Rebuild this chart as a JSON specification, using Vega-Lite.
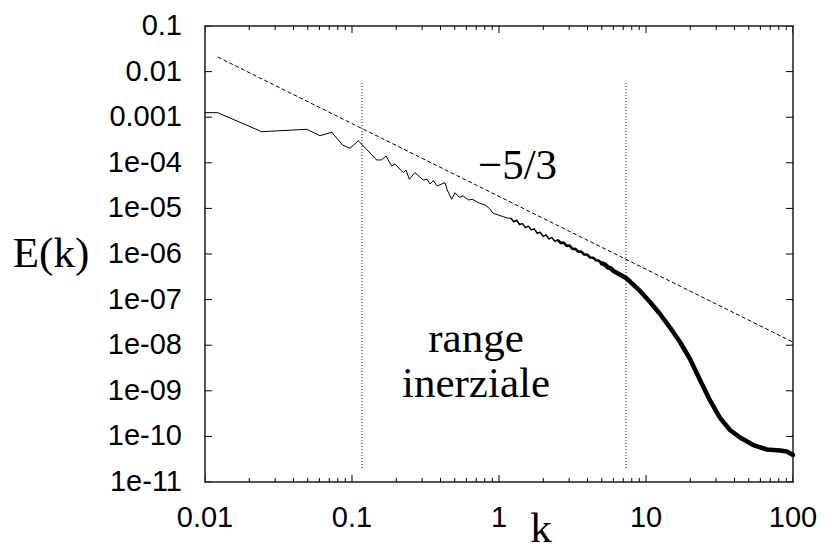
{
  "$schema": "https://vega.github.io/schema/vega-lite/v6.json",
  "width": 588,
  "height": 456,
  "autosize": {"type": "none"},
  "padding": {"left": 205, "top": 26, "right": 34, "bottom": 68},
  "background": "white",
  "config": {"view": {"stroke": "#555555", "strokeWidth": 2}},
  "datasets": {
    "spectrum": [
      {"k": 0.01, "E": 1.256e-3, "seg": "a"},
      {"k": 0.0122, "E": 1.256e-3, "seg": "a"},
      {"k": 0.0243, "E": 4.81e-4, "seg": "a"},
      {"k": 0.0492, "E": 5.43e-4, "seg": "a"},
      {"k": 0.0606, "E": 3.93e-4, "seg": "a"},
      {"k": 0.0728, "E": 4.67e-4, "seg": "a"},
      {"k": 0.0864, "E": 2.45e-4, "seg": "a"},
      {"k": 0.0969, "E": 2.08e-4, "seg": "a"},
      {"k": 0.1104, "E": 3.05e-4, "seg": "a"},
      {"k": 0.1472, "E": 1.15e-4, "seg": "a"},
      {"k": 0.1592, "E": 1.16e-4, "seg": "a"},
      {"k": 0.1703, "E": 1.41e-4, "seg": "a"},
      {"k": 0.1862, "E": 8.51e-5, "seg": "a"},
      {"k": 0.196, "E": 9.41e-5, "seg": "a"},
      {"k": 0.2234, "E": 6.07e-5, "seg": "a"},
      {"k": 0.2329, "E": 6.95e-5, "seg": "a"},
      {"k": 0.2455, "E": 4.35e-5, "seg": "a"},
      {"k": 0.2683, "E": 6.1e-5, "seg": "a"},
      {"k": 0.2902, "E": 4.81e-5, "seg": "a"},
      {"k": 0.3055, "E": 4.2e-5, "seg": "a"},
      {"k": 0.325, "E": 4.35e-5, "seg": "a"},
      {"k": 0.3394, "E": 3.43e-5, "seg": "a"},
      {"k": 0.357, "E": 4.05e-5, "seg": "a"},
      {"k": 0.38, "E": 3.1e-5, "seg": "a"},
      {"k": 0.4074, "E": 3.43e-5, "seg": "a"},
      {"k": 0.4292, "E": 3.66e-5, "seg": "a"},
      {"k": 0.4446, "E": 2.53e-5, "seg": "a"},
      {"k": 0.4766, "E": 1.58e-5, "seg": "a"},
      {"k": 0.5022, "E": 2.21e-5, "seg": "a"},
      {"k": 0.537, "E": 1.75e-5, "seg": "a"},
      {"k": 0.5715, "E": 1.87e-5, "seg": "a"},
      {"k": 0.618, "E": 1.53e-5, "seg": "a"},
      {"k": 0.6622, "E": 1.58e-5, "seg": "a"},
      {"k": 0.7047, "E": 1.4e-5, "seg": "a"},
      {"k": 0.7424, "E": 1.29e-5, "seg": "a"},
      {"k": 0.803, "E": 1.19e-5, "seg": "a"},
      {"k": 0.859, "E": 1.0e-5, "seg": "a"},
      {"k": 0.914, "E": 7.81e-6, "seg": "a"},
      {"k": 0.989, "E": 7.17e-6, "seg": "a"},
      {"k": 1.069, "E": 6.58e-6, "seg": "a"},
      {"k": 1.156, "E": 6.07e-6, "seg": "a"},
      {"k": 1.2023, "E": 6.17e-6, "seg": "a"},
      {"k": 1.2023, "E": 6.17e-6, "seg": "b"},
      {"k": 1.2589, "E": 5.09e-6, "seg": "b"},
      {"k": 1.3183, "E": 5.5e-6, "seg": "b"},
      {"k": 1.3804, "E": 4.44e-6, "seg": "b"},
      {"k": 1.4454, "E": 4.63e-6, "seg": "b"},
      {"k": 1.5136, "E": 3.79e-6, "seg": "b"},
      {"k": 1.5849, "E": 4.09e-6, "seg": "b"},
      {"k": 1.6596, "E": 3.38e-6, "seg": "b"},
      {"k": 1.7378, "E": 3.56e-6, "seg": "b"},
      {"k": 1.8197, "E": 2.85e-6, "seg": "b"},
      {"k": 1.9055, "E": 3.0e-6, "seg": "b"},
      {"k": 1.9953, "E": 2.43e-6, "seg": "b"},
      {"k": 2.0893, "E": 2.62e-6, "seg": "b"},
      {"k": 2.1878, "E": 2.14e-6, "seg": "b"},
      {"k": 2.2909, "E": 2.29e-6, "seg": "b"},
      {"k": 2.3988, "E": 1.897e-6, "seg": "b"},
      {"k": 2.5119, "E": 2.05e-6, "seg": "b"},
      {"k": 2.5119, "E": 2.05e-6, "seg": "c"},
      {"k": 2.6303, "E": 1.73e-6, "seg": "c"},
      {"k": 2.7542, "E": 1.78e-6, "seg": "c"},
      {"k": 2.884, "E": 1.5e-6, "seg": "c"},
      {"k": 3.02, "E": 1.53e-6, "seg": "c"},
      {"k": 3.1623, "E": 1.29e-6, "seg": "c"},
      {"k": 3.3113, "E": 1.3e-6, "seg": "c"},
      {"k": 3.4674, "E": 1.117e-6, "seg": "c"},
      {"k": 3.6308, "E": 1.125e-6, "seg": "c"},
      {"k": 3.8019, "E": 9.75e-7, "seg": "c"},
      {"k": 3.9811, "E": 9.68e-7, "seg": "c"},
      {"k": 4.1687, "E": 8.39e-7, "seg": "c"},
      {"k": 4.3652, "E": 8.3e-7, "seg": "c"},
      {"k": 4.5709, "E": 7.28e-7, "seg": "c"},
      {"k": 4.7863, "E": 7.11e-7, "seg": "c"},
      {"k": 5.0119, "E": 6.21e-7, "seg": "c"},
      {"k": 5.0119, "E": 6.21e-7, "seg": "d"},
      {"k": 5.2481, "E": 5.9e-7, "seg": "d"},
      {"k": 5.4954, "E": 5.11e-7, "seg": "d"},
      {"k": 5.7544, "E": 4.82e-7, "seg": "d"},
      {"k": 6.0256, "E": 4.21e-7, "seg": "d"},
      {"k": 6.3096, "E": 3.87e-7, "seg": "d"},
      {"k": 7.31, "E": 2.98e-7, "seg": "d"},
      {"k": 7.781, "E": 2.49e-7, "seg": "d"},
      {"k": 9.1, "E": 1.545e-7, "seg": "d"},
      {"k": 10.65, "E": 8.85e-8, "seg": "d"},
      {"k": 12.45, "E": 4.83e-8, "seg": "d"},
      {"k": 14.57, "E": 2.44e-8, "seg": "d"},
      {"k": 17.03, "E": 1.175e-8, "seg": "d"},
      {"k": 19.92, "E": 4.98e-9, "seg": "d"},
      {"k": 23.3, "E": 1.73e-9, "seg": "d"},
      {"k": 27.25, "E": 6.13e-10, "seg": "d"},
      {"k": 31.87, "E": 2.54e-10, "seg": "d"},
      {"k": 37.27, "E": 1.38e-10, "seg": "d"},
      {"k": 43.61, "E": 9.46e-11, "seg": "d"},
      {"k": 53.7, "E": 6.47e-11, "seg": "d"},
      {"k": 66.2, "E": 5.16e-11, "seg": "d"},
      {"k": 81.6, "E": 4.91e-11, "seg": "d"},
      {"k": 90.6, "E": 4.67e-11, "seg": "d"},
      {"k": 100, "E": 3.91e-11, "seg": "d"}
    ],
    "slope": [
      {"k": 0.0122, "E": 0.0209},
      {"k": 100, "E": 1.17e-8}
    ],
    "bounds": [
      {"k": 0.117, "top": 0.0056, "bottom": 1.83e-11},
      {"k": 7.31, "top": 0.0056, "bottom": 1.83e-11}
    ],
    "notes": [
      {"text": "−5/3", "k": 1.336, "E": 4.42e-5},
      {"text": "range", "k": 0.6975, "E": 7.1e-9},
      {"text": "inerziale", "k": 0.6975, "E": 7.31e-10}
    ],
    "xlabels": [
      {"label": "0.01", "k": 0.01, "E": 1e-11},
      {"label": "0.1", "k": 0.1, "E": 1e-11},
      {"label": "1", "k": 1, "E": 1e-11},
      {"label": "10", "k": 10, "E": 1e-11},
      {"label": "100", "k": 100, "E": 1e-11}
    ],
    "ylabels": [
      {"label": "0.1", "k": 0.01, "E": 0.1},
      {"label": "0.01", "k": 0.01, "E": 0.01},
      {"label": "0.001", "k": 0.01, "E": 0.001},
      {"label": "1e-04", "k": 0.01, "E": 1e-4},
      {"label": "1e-05", "k": 0.01, "E": 1e-5},
      {"label": "1e-06", "k": 0.01, "E": 1e-6},
      {"label": "1e-07", "k": 0.01, "E": 1e-7},
      {"label": "1e-08", "k": 0.01, "E": 1e-8},
      {"label": "1e-09", "k": 0.01, "E": 1e-9},
      {"label": "1e-10", "k": 0.01, "E": 1e-10},
      {"label": "1e-11", "k": 0.01, "E": 1e-11}
    ],
    "ytitle": [{"label": "E(k)", "k": 0.01, "E": 1e-6}],
    "xtitle": [{"label": "k", "k": 1.93, "E": 1e-11}],
    "xmajor": [
      {"k": 0.01, "E": 1e-11}, {"k": 0.1, "E": 1e-11}, {"k": 1, "E": 1e-11}, {"k": 10, "E": 1e-11}, {"k": 100, "E": 1e-11},
      {"k": 0.01, "E": 0.1}, {"k": 0.1, "E": 0.1}, {"k": 1, "E": 0.1}, {"k": 10, "E": 0.1}, {"k": 100, "E": 0.1}
    ],
    "xminor": [
      {"k": 0.02, "E": 1e-11}, {"k": 0.03, "E": 1e-11}, {"k": 0.04, "E": 1e-11}, {"k": 0.05, "E": 1e-11}, {"k": 0.06, "E": 1e-11}, {"k": 0.07, "E": 1e-11}, {"k": 0.08, "E": 1e-11}, {"k": 0.09, "E": 1e-11},
      {"k": 0.2, "E": 1e-11}, {"k": 0.3, "E": 1e-11}, {"k": 0.4, "E": 1e-11}, {"k": 0.5, "E": 1e-11}, {"k": 0.6, "E": 1e-11}, {"k": 0.7, "E": 1e-11}, {"k": 0.8, "E": 1e-11}, {"k": 0.9, "E": 1e-11},
      {"k": 2, "E": 1e-11}, {"k": 3, "E": 1e-11}, {"k": 4, "E": 1e-11}, {"k": 5, "E": 1e-11}, {"k": 6, "E": 1e-11}, {"k": 7, "E": 1e-11}, {"k": 8, "E": 1e-11}, {"k": 9, "E": 1e-11},
      {"k": 20, "E": 1e-11}, {"k": 30, "E": 1e-11}, {"k": 40, "E": 1e-11}, {"k": 50, "E": 1e-11}, {"k": 60, "E": 1e-11}, {"k": 70, "E": 1e-11}, {"k": 80, "E": 1e-11}, {"k": 90, "E": 1e-11},
      {"k": 0.02, "E": 0.1}, {"k": 0.03, "E": 0.1}, {"k": 0.04, "E": 0.1}, {"k": 0.05, "E": 0.1}, {"k": 0.06, "E": 0.1}, {"k": 0.07, "E": 0.1}, {"k": 0.08, "E": 0.1}, {"k": 0.09, "E": 0.1},
      {"k": 0.2, "E": 0.1}, {"k": 0.3, "E": 0.1}, {"k": 0.4, "E": 0.1}, {"k": 0.5, "E": 0.1}, {"k": 0.6, "E": 0.1}, {"k": 0.7, "E": 0.1}, {"k": 0.8, "E": 0.1}, {"k": 0.9, "E": 0.1},
      {"k": 2, "E": 0.1}, {"k": 3, "E": 0.1}, {"k": 4, "E": 0.1}, {"k": 5, "E": 0.1}, {"k": 6, "E": 0.1}, {"k": 7, "E": 0.1}, {"k": 8, "E": 0.1}, {"k": 9, "E": 0.1},
      {"k": 20, "E": 0.1}, {"k": 30, "E": 0.1}, {"k": 40, "E": 0.1}, {"k": 50, "E": 0.1}, {"k": 60, "E": 0.1}, {"k": 70, "E": 0.1}, {"k": 80, "E": 0.1}, {"k": 90, "E": 0.1}
    ],
    "ymajor": [
      {"k": 0.01, "E": 1e-11}, {"k": 0.01, "E": 1e-10}, {"k": 0.01, "E": 1e-9}, {"k": 0.01, "E": 1e-8}, {"k": 0.01, "E": 1e-7}, {"k": 0.01, "E": 1e-6},
      {"k": 0.01, "E": 1e-5}, {"k": 0.01, "E": 1e-4}, {"k": 0.01, "E": 0.001}, {"k": 0.01, "E": 0.01}, {"k": 0.01, "E": 0.1},
      {"k": 100, "E": 1e-11}, {"k": 100, "E": 1e-10}, {"k": 100, "E": 1e-9}, {"k": 100, "E": 1e-8}, {"k": 100, "E": 1e-7}, {"k": 100, "E": 1e-6},
      {"k": 100, "E": 1e-5}, {"k": 100, "E": 1e-4}, {"k": 100, "E": 0.001}, {"k": 100, "E": 0.01}, {"k": 100, "E": 0.1}
    ]
  },
  "layer": [
    {
      "data": {"name": "spectrum"},
      "transform": [{"filter": "datum.seg == 'a'"}],
      "mark": {"type": "line", "color": "black", "strokeWidth": 1, "strokeJoin": "round"},
      "encoding": {
        "x": {"field": "k", "type": "quantitative", "scale": {"type": "log", "domain": [0.01, 100], "nice": false}, "axis": null},
        "y": {"field": "E", "type": "quantitative", "scale": {"type": "log", "domain": [1e-11, 0.1], "nice": false}, "axis": null}
      }
    },
    {
      "data": {"name": "spectrum"},
      "transform": [{"filter": "datum.seg == 'b'"}],
      "mark": {"type": "line", "color": "black", "strokeWidth": 1.5, "strokeJoin": "round"},
      "encoding": {
        "x": {"field": "k", "type": "quantitative", "axis": null},
        "y": {"field": "E", "type": "quantitative", "axis": null}
      }
    },
    {
      "data": {"name": "spectrum"},
      "transform": [{"filter": "datum.seg == 'c'"}],
      "mark": {"type": "line", "color": "black", "strokeWidth": 2.6, "strokeJoin": "round"},
      "encoding": {
        "x": {"field": "k", "type": "quantitative", "axis": null},
        "y": {"field": "E", "type": "quantitative", "axis": null}
      }
    },
    {
      "data": {"name": "spectrum"},
      "transform": [{"filter": "datum.seg == 'd'"}],
      "mark": {"type": "line", "color": "black", "strokeWidth": 4.5, "strokeJoin": "round", "strokeCap": "round"},
      "encoding": {
        "x": {"field": "k", "type": "quantitative", "axis": null},
        "y": {"field": "E", "type": "quantitative", "axis": null}
      }
    },
    {
      "data": {"name": "slope"},
      "mark": {"type": "line", "color": "black", "strokeWidth": 1, "strokeDash": [4, 2.5]},
      "encoding": {
        "x": {"field": "k", "type": "quantitative", "axis": null},
        "y": {"field": "E", "type": "quantitative", "axis": null}
      }
    },
    {
      "data": {"name": "bounds"},
      "mark": {"type": "rule", "color": "black", "strokeWidth": 1, "strokeDash": [1, 2]},
      "encoding": {
        "x": {"field": "k", "type": "quantitative", "axis": null},
        "y": {"field": "top", "type": "quantitative", "axis": null},
        "y2": {"field": "bottom"}
      }
    },
    {
      "data": {"name": "xmajor"},
      "mark": {"type": "tick", "orient": "vertical", "size": 14, "thickness": 1, "color": "black", "opacity": 1, "clip": true},
      "encoding": {
        "x": {"field": "k", "type": "quantitative", "axis": null},
        "y": {"field": "E", "type": "quantitative", "axis": null}
      }
    },
    {
      "data": {"name": "xminor"},
      "mark": {"type": "tick", "orient": "vertical", "size": 8, "thickness": 1, "color": "black", "opacity": 1, "clip": true},
      "encoding": {
        "x": {"field": "k", "type": "quantitative", "axis": null},
        "y": {"field": "E", "type": "quantitative", "axis": null}
      }
    },
    {
      "data": {"name": "ymajor"},
      "mark": {"type": "tick", "orient": "horizontal", "size": 14, "thickness": 1, "color": "black", "opacity": 1, "clip": true},
      "encoding": {
        "x": {"field": "k", "type": "quantitative", "axis": null},
        "y": {"field": "E", "type": "quantitative", "axis": null}
      }
    },
    {
      "data": {"name": "notes"},
      "mark": {"type": "text", "font": "Liberation Serif", "fontSize": 43, "color": "black", "align": "center", "baseline": "alphabetic"},
      "encoding": {
        "x": {"field": "k", "type": "quantitative", "axis": null},
        "y": {"field": "E", "type": "quantitative", "axis": null},
        "text": {"field": "text"}
      }
    },
    {
      "data": {"name": "xlabels"},
      "mark": {"type": "text", "font": "Liberation Sans", "fontSize": 29, "color": "black", "align": "center", "baseline": "top", "dy": 22},
      "encoding": {
        "x": {"field": "k", "type": "quantitative", "axis": null},
        "y": {"field": "E", "type": "quantitative", "axis": null},
        "text": {"field": "label"}
      }
    },
    {
      "data": {"name": "ylabels"},
      "mark": {"type": "text", "font": "Liberation Sans", "fontSize": 29, "color": "black", "align": "right", "baseline": "middle", "dx": -23},
      "encoding": {
        "x": {"field": "k", "type": "quantitative", "axis": null},
        "y": {"field": "E", "type": "quantitative", "axis": null},
        "text": {"field": "label"}
      }
    },
    {
      "data": {"name": "ytitle"},
      "mark": {"type": "text", "font": "Liberation Serif", "fontSize": 43, "color": "black", "align": "center", "baseline": "alphabetic", "dx": -154, "dy": 13},
      "encoding": {
        "x": {"field": "k", "type": "quantitative", "axis": null},
        "y": {"field": "E", "type": "quantitative", "axis": null},
        "text": {"field": "label"}
      }
    },
    {
      "data": {"name": "xtitle"},
      "mark": {"type": "text", "font": "Liberation Serif", "fontSize": 43, "color": "black", "align": "center", "baseline": "alphabetic", "dy": 60},
      "encoding": {
        "x": {"field": "k", "type": "quantitative", "axis": null},
        "y": {"field": "E", "type": "quantitative", "axis": null},
        "text": {"field": "label"}
      }
    }
  ]
}
